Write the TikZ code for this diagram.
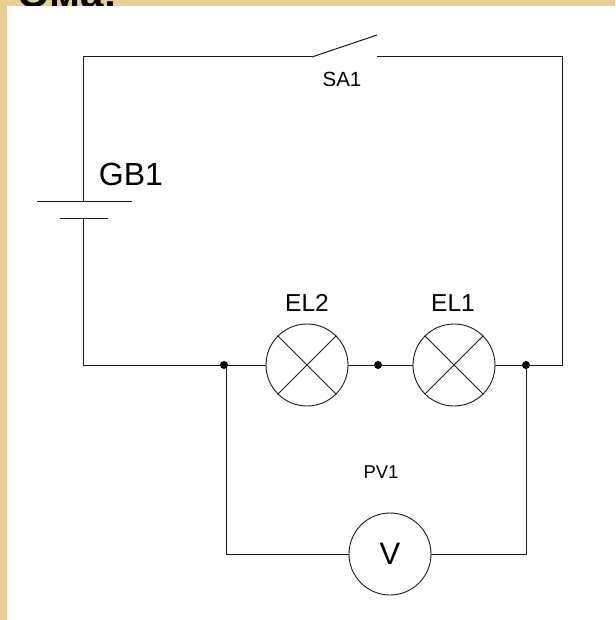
\documentclass[tikz,border=0pt]{standalone}
\usepackage{fontspec}
\setmainfont{Liberation Sans}
\definecolor{parch}{HTML}{E8CF95}
\definecolor{wire}{HTML}{1A1A1A}
\tikzset{
  wirep/.style={draw=wire,line width=1pt},
  lamp/.style={circle,draw=wire,line width=0.9pt,minimum size=82pt,inner sep=0pt,fill=white},
  junction/.style={circle,fill=black,minimum size=8pt,inner sep=0pt},
  lbl/.style={inner sep=0pt,text=black},
}
\begin{document}
\begin{tikzpicture}[x=1pt,y=-1pt]
\useasboundingbox (0,0) rectangle (615,620);
\fill[parch] (0,0) rectangle (615,620);
\begin{scope}
\clip (0,0) rectangle (615,620);
\node[anchor=base west,inner sep=0pt,font=\bfseries\fontsize{42}{42}\selectfont] at (17,8) {Ома:};
\end{scope}
\fill[white] (7,6) rectangle (615,620);
\coordinate (tl) at (83,57);
\coordinate (swa) at (312,57);
\coordinate (swb) at (377,35);
\coordinate (swc) at (377,57);
\coordinate (tr) at (562,57);
\coordinate (br) at (562,365);
\coordinate (bl) at (83,365);
\coordinate (ba) at (83,202);
\coordinate (bb) at (83,218);
\coordinate (pa1) at (37,202);
\coordinate (pa2) at (132,202);
\coordinate (pb1) at (60,218);
\coordinate (pb2) at (108,218);
\coordinate (vl) at (226,554);
\coordinate (vr) at (526,554);
\coordinate (jlb) at (226,365);
\node[junction] (j1) at (224,365) {};
\node[junction] (j2) at (378,365) {};
\node[junction] (j3) at (526,365) {};
\node[lamp] (el2) at (307,365) {};
\node[lamp] (el1) at (454,365) {};
\node[lamp,font=\fontsize{31}{31}\selectfont] (v) at (390,554) {V};
\draw[wirep] (ba) -- (tl) -- (swa);
\draw[wirep] (swa) -- (swb);
\draw[wirep] (swc) -- (tr) -- (br) -- (j3.center);
\draw[wirep] (pa1) -- (pa2);
\draw[wirep] (pb1) -- (pb2);
\draw[wirep] (bb) -- (bl) -- (el2.west);
\draw[wirep] (el2.east) -- (el1.west);
\draw[wirep] (el1.east) -- (j3.center);
\draw[wirep] (jlb) -- (vl) -- (v.west);
\draw[wirep] (v.east) -- (vr) -- (j3.center);
\foreach \l in {el1,el2}{
  \draw[wire,line width=0.9pt] (\l.45) -- (\l.225);
  \draw[wire,line width=0.9pt] (\l.135) -- (\l.315);
}
\node[lbl,font=\fontsize{32}{32}\selectfont] (gb) at (131,174) {GB1};
\node[lbl,font=\fontsize{20.5}{20.5}\selectfont] (sa) at (342,79) {SA1};
\node[lbl,font=\fontsize{24.5}{24.5}\selectfont] (l2) at (307,303) {EL2};
\node[lbl,font=\fontsize{24.5}{24.5}\selectfont] (l1) at (453,303) {EL1};
\node[lbl,font=\fontsize{18.5}{18.5}\selectfont] (pv) at (381,472) {PV1};
\end{tikzpicture}
\end{document}
